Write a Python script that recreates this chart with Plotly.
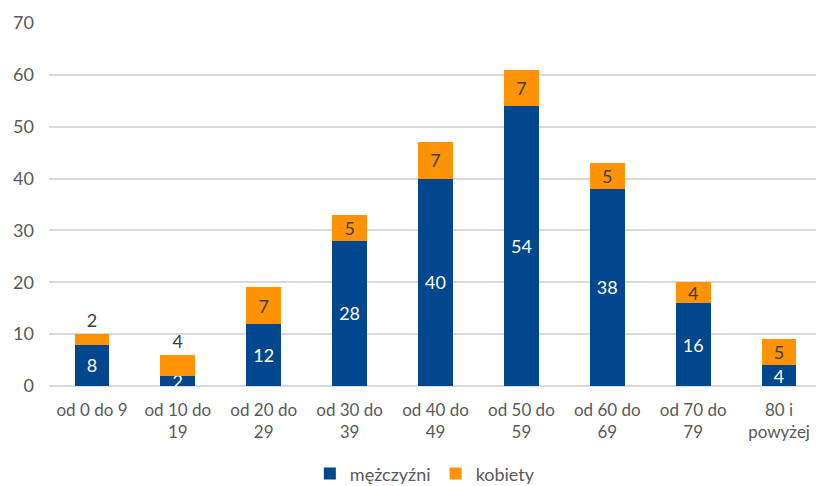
import plotly.graph_objects as go

categories = ["od 0 do 9", "od 10 do<br>19", "od 20 do<br>29", "od 30 do<br>39", "od 40 do<br>49",
              "od 50 do<br>59", "od 60 do<br>69", "od 70 do<br>79", "80 i<br>powyżej"]
men = [8, 2, 12, 28, 40, 54, 38, 16, 4]
women = [2, 4, 7, 5, 7, 7, 5, 4, 5]
y_ticks = [0, 10, 20, 30, 40, 50, 60, 70]

BLUE = "#00478D"
ORANGE = "#FF9205"
GRAY = "#595959"
DARK = "#404040"
FONT = "Lato"

# label placement style for the orange segments (first two sit above the bar)
women_label_pos = ["outside", "outside"] + ["inside"] * 7

fig = go.Figure()
fig.add_trace(go.Bar(
    x=categories, y=men, name="mężczyźni", marker=dict(color=BLUE, line=dict(width=0)),
    text=[str(v) for v in men], textposition="inside", insidetextanchor="middle",
    constraintext="none", textangle=0,
    insidetextfont=dict(family=FONT, size=18, color="white"),
))
fig.add_trace(go.Bar(
    x=categories, y=women, name="kobiety", marker=dict(color=ORANGE, line=dict(width=0)),
    text=[str(v) for v in women], textposition=women_label_pos, insidetextanchor="middle",
    constraintext="none", textangle=0, cliponaxis=False,
    insidetextfont=dict(family=FONT, size=18, color=DARK),
    outsidetextfont=dict(family=FONT, size=18, color=DARK),
))

fig.update_layout(
    barmode="stack", bargap=0.596,
    width=816, height=486,
    margin=dict(l=49, r=0, t=23, b=100, autoexpand=False),
    paper_bgcolor="white", plot_bgcolor="white",
    font=dict(family=FONT, size=17, color=GRAY),
    hovermode=False,
    legend=dict(orientation="h", x=0.49, xanchor="center", yref="container", y=0.025, yanchor="middle",
                font=dict(family=FONT, size=18, color=GRAY), itemwidth=30,
                traceorder="normal"),
    xaxis=dict(range=[-0.5, 8.43], showgrid=False, showline=False, zeroline=False, automargin=False,
               ticks="", ticklabelstandoff=12, tickfont=dict(family=FONT, size=17, color=GRAY)),
    yaxis=dict(range=[0, 70], tickvals=y_ticks, showgrid=True, gridcolor="#D9D9D9", gridwidth=1.5,
               zeroline=True, zerolinecolor="#D9D9D9", zerolinewidth=1.5, showline=False,
               ticks="", ticklabelstandoff=14, automargin=False,
               tickfont=dict(family=FONT, size=18, color=GRAY)),
)

fig.write_html("out.html")
